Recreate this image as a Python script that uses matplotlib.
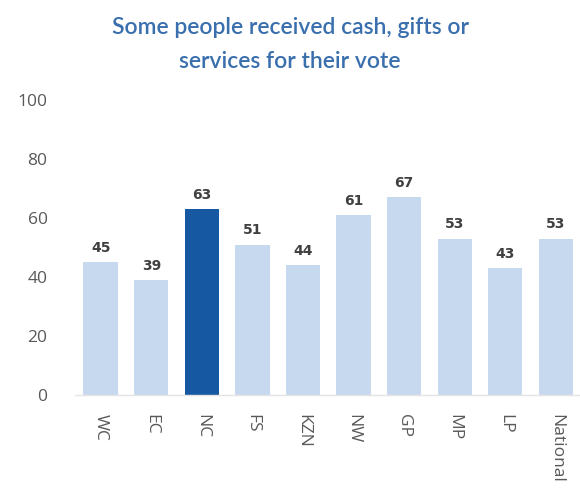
import matplotlib
matplotlib.use("Agg")
import matplotlib.pyplot as plt

categories = ["WC", "EC", "NC", "FS", "KZN", "NW", "GP", "MP", "LP", "National"]
values = [45, 39, 63, 51, 44, 61, 67, 53, 43, 53]
highlight = "NC"
y_ticks = [0, 20, 40, 60, 80, 100]
title = "Some people received cash, gifts or\nservices for their vote"

light = "#c6d9ee"
dark = "#1758a2"

fig = plt.figure(figsize=(5.8, 4.95), dpi=100)
ax = fig.add_axes([0.13, 0.202, 0.872, 0.596])

x = list(range(len(categories)))
colors = [dark if c == highlight else light for c in categories]
ax.bar(x, values, width=0.68, color=colors, zorder=2)

for xi, v in zip(x, values):
    ax.text(xi, v + 2.5, str(v), ha="center", va="bottom",
            fontsize=10, fontweight="bold", color="#404040",
            family="DejaVu Sans")

ax.set_xlim(-0.5, 9.5)
ax.set_ylim(0, 100)
ax.set_yticks(y_ticks)
ax.set_yticklabels([str(t) for t in y_ticks], fontsize=12.5, color="#595959",
                   family="Open Sans")
ax.set_xticks(x)
ax.set_xticklabels(categories, rotation=270, fontsize=12.5, color="#595959",
                   family="Open Sans", va="top", ha="center")
ax.tick_params(axis="both", length=0)
ax.tick_params(axis="y", pad=20)
ax.tick_params(axis="x", pad=14)

for s in ["top", "right", "left"]:
    ax.spines[s].set_visible(False)
ax.spines["bottom"].set_color("#e4e4e4")
ax.spines["bottom"].set_linewidth(1.0)

fig.text(0.5, 0.965, title, ha="center", va="top", fontsize=16.5,
         fontweight="semibold", color="#3a6fae", family="Lato",
         linespacing=1.75)

fig.savefig("out.png", dpi=100)
